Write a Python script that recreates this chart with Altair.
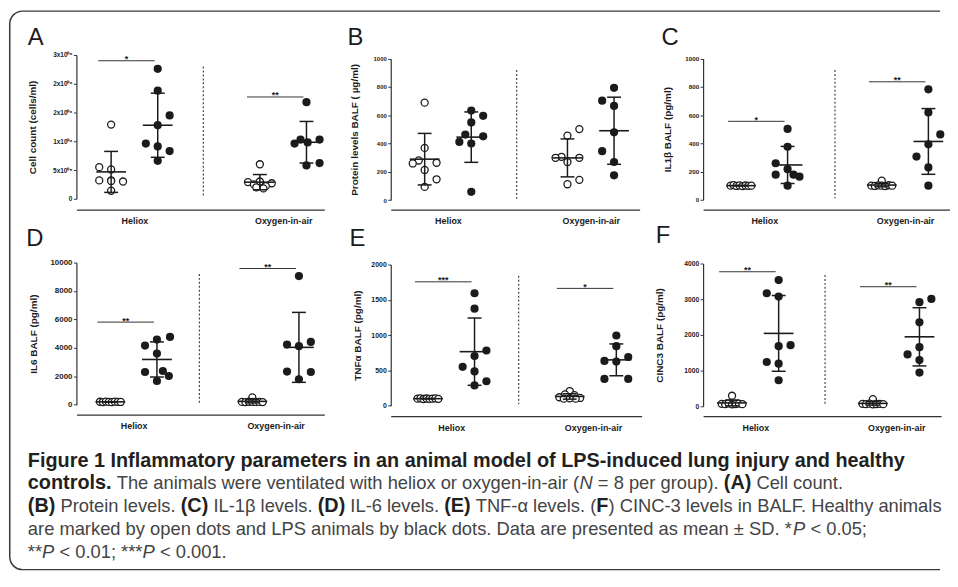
import json
import altair as alt
import pandas as pd

FONT = "Liberation Sans"
INK = "#1b1b1b"
AXIS_INK = "#333333"

# ---------------- data ----------------
categories = ["Heliox", "Oxygen-in-air"]
conditions = ["Healthy", "LPS"]
letters = ["A", "B", "C", "D", "E", "F"]
y_titles = [
    "Cell count (cells/ml)",
    "Protein levels BALF ( \u00b5g/ml)",
    "IL1\u03b2 BALF (pg/ml)",
    "IL6 BALF (pg/ml)",
    "TNF\u03b1 BALF (pg/ml)",
    "CINC3 BALF (pg/ml)",
]
y_max = [2500000, 1000, 1000, 10000, 2000, 4000]
y_step = [500000, 200, 200, 2000, 500, 1000]
a_tick_labels = ["0", "5x10\u2070\u2075", "1x10\u2070\u2076", "2x10\u2070\u2076", "2x10\u2070\u2076", "3x10\u2070\u2076"]

# Panel A - cell count (cells/ml)
A_heliox_healthy = [1290000, 550000, 510000, 320000, 320000, 300000, 140000, 310000]
A_heliox_lps = [2260000, 1880000, 1450000, 1280000, 960000, 910000, 830000, 660000]
A_oxygen_healthy = [600000, 300000, 290000, 270000, 250000, 220000, 200000, 180000]
A_oxygen_lps = [1680000, 1030000, 1030000, 980000, 960000, 620000, 580000]
# Panel B - protein (ug/ml)
B_heliox_healthy = [689, 369, 280, 259, 264, 213, 147, 93]
B_heliox_lps = [633, 596, 549, 463, 451, 411, 400, 58]
B_oxygen_healthy = [502, 456, 306, 299, 299, 269, 143, 112]
B_oxygen_lps = [794, 703, 666, 479, 346, 269, 175]
# Panel C - IL1b (pg/ml)
C_heliox_healthy = [100, 104, 98, 102, 97, 101, 99, 100]
C_heliox_lps = [502, 376, 259, 217, 178, 178, 164, 100]
C_oxygen_healthy = [135, 100, 98, 102, 100, 97, 103, 100]
C_oxygen_lps = [783, 619, 463, 393, 306, 229, 100]
# Panel D - IL6 (pg/ml)
D_heliox_healthy = [210, 190, 220, 200, 180, 215, 205, 195]
D_heliox_lps = [4770, 4580, 4160, 3600, 2300, 2370, 2020, 1670]
D_oxygen_healthy = [512, 200, 190, 210, 205, 195, 200, 185]
D_oxygen_lps = [9050, 4230, 4120, 4420, 2330, 2300, 1790]
# Panel E - TNFa (pg/ml)
E_heliox_healthy = [100, 105, 95, 102, 98, 100, 103, 97]
E_heliox_lps = [1593, 1375, 782, 704, 551, 486, 347, 287]
E_oxygen_healthy = [208, 160, 150, 120, 110, 100, 100, 105]
E_oxygen_lps = [995, 843, 690, 634, 625, 380, 380]
# Panel F - CINC3 (pg/ml)
F_heliox_healthy = [296, 70, 60, 80, 55, 65, 75, 60]
F_heliox_lps = [3537, 3167, 3074, 1713, 1685, 1241, 1194, 731]
F_oxygen_healthy = [200, 70, 60, 75, 55, 65, 70, 60]
F_oxygen_lps = [3009, 2917, 2352, 1657, 1454, 1296, 944]

# horizontal dot column of each animal within its group
A_heliox_healthy_slot = [0, -1, 0, -1, 0, 1, 0, 0]
A_heliox_lps_slot = [0, 0, 1, 0, -1, 0, 1, 0]
A_oxygen_healthy_slot = [0, 0, -1, 1, -0.5, 0.5, -0.3, 0.3]
A_oxygen_lps_slot = [0, -0.5, 1.1, 0.1, -1, 1.1, 0]
B_heliox_healthy_slot = [0, 0, -0.5, -1, 1, 0, 1, 0]
B_heliox_lps_slot = [0, 1, 0, -0.5, 1, -1, 0, 0]
B_oxygen_healthy_slot = [1, 0, -0.5, -1, 1, 0, 1, 0]
B_oxygen_lps_slot = [0, -1, 0, 0, -1, 0, 0]
C_heliox_healthy_slot = [-0.875, -0.625, -0.375, -0.125, 0.125, 0.375, 0.625, 0.875]
C_heliox_lps_slot = [0, 0, -1, 0, -1, 0.5, 1, 0]
C_oxygen_healthy_slot = [0, -0.875, -0.58, -0.29, 0, 0.29, 0.58, 0.875]
C_oxygen_lps_slot = [0, 0, 1, 0, -1, 0, 0]
D_heliox_healthy_slot = [-0.875, -0.625, -0.375, -0.125, 0.125, 0.375, 0.625, 0.875]
D_heliox_lps_slot = [1.1, 0, -1, 0, -1, 0.5, 1, 0]
D_oxygen_healthy_slot = [0, -0.875, -0.58, -0.29, 0, 0.29, 0.58, 0.875]
D_oxygen_lps_slot = [0, -1, 0, 1, -1, 1, 0]
E_heliox_healthy_slot = [-0.875, -0.625, -0.375, -0.125, 0.125, 0.375, 0.625, 0.875]
E_heliox_lps_slot = [0, 0, 1, 0, -1, 0, 1, 0]
E_oxygen_healthy_slot = [0, -0.4, 0.4, -0.875, 0.875, -0.5, 0.5, 0]
E_oxygen_lps_slot = [0, 0, 1, -1, 0, -1, 1]
F_heliox_healthy_slot = [0, -0.875, -0.58, -0.29, 0, 0.29, 0.58, 0.875]
F_heliox_lps_slot = [0, -1, 0, 1, 0, -1, 0, 0]
F_oxygen_healthy_slot = [0, -0.875, -0.58, -0.29, 0, 0.29, 0.58, 0.875]
F_oxygen_lps_slot = [1, 0, 0, 0, -1, 0, 0]

# significance bars
sig_heliox_y = [2400000, None, 556, 5810, 1755, 3770]
sig_heliox_stars = ["*", "", "*", "**", "***", "**"]
sig_oxygen_y = [1770000, None, 836, 9580, 1662, 3350]
sig_oxygen_stars = ["**", "", "**", "**", "*", "**"]

# caption text segments (b = bold, r = regular, i = italic)
cap_text = [
    "Figure 1 Inflammatory parameters in an animal model of LPS-induced lung injury and healthy",
    "controls.", " The animals were ventilated with heliox or oxygen-in-air (", "N", " = 8 per group). ",
    "(A)", " Cell count.",
    "(B)", " Protein levels. ", "(C)", " IL-1\u03b2 levels. ", "(D)", " IL-6 levels. ", "(E)",
    " TNF-\u03b1 levels. (", "F", ") CINC-3 levels in BALF. Healthy animals",
    "are marked by open dots and LPS animals by black dots. Data are presented as mean \u00b1 SD. *",
    "P", " < 0.05;",
    "**", "P", " < 0.01; ***", "P", " < 0.001.",
]
cap_line = [1, 2, 2, 2, 2, 2, 2, 3, 3, 3, 3, 3, 3, 3, 3, 3, 3, 4, 4, 4, 5, 5, 5, 5, 5]
cap_style = ["b", "b", "r", "i", "r", "b", "r", "b", "r", "b", "r", "b", "r", "b", "r", "b", "r",
             "r", "i", "r", "r", "i", "r", "i", "r"]

# ---------------- layout (pixels) ----------------
CAP_SIZE = {"b": 20, "r": 18.5, "i": 18.5}
CAP_LEFT = 28          # page x of caption lines
CAP_BASE = 468         # page y of first caption baseline
CAP_LEAD = 23
ORIGIN_X, CAPTION_TOP = 77, 470.6   # page position of the caption cell origin

_REG = {' ': 278, '(': 333, ')': 333, '*': 389, ',': 278, '-': 333, '.': 278, ';': 278, '<': 584,
        '=': 584, '\u00b1': 584, '\u03b2': 575, '\u03b1': 578,
        'A': 667, 'B': 667, 'C': 722, 'D': 722, 'E': 667, 'F': 611, 'H': 722, 'I': 278, 'L': 556,
        'N': 722, 'P': 667, 'S': 667, 'T': 611,
        'a': 556, 'b': 556, 'c': 500, 'd': 556, 'e': 556, 'f': 278, 'g': 556, 'h': 556, 'i': 222,
        'j': 222, 'k': 500, 'l': 222, 'm': 833, 'n': 556, 'o': 556, 'p': 556, 'r': 333, 's': 500,
        't': 278, 'u': 556, 'v': 500, 'w': 722, 'x': 500, 'y': 500}
_BOLD = {' ': 278, '(': 333, ')': 333, '.': 278, '-': 333,
         'A': 722, 'B': 722, 'C': 722, 'D': 722, 'E': 667, 'F': 611, 'I': 278, 'L': 611, 'P': 667,
         'S': 667, 'a': 556, 'b': 611, 'c': 556, 'd': 611, 'e': 556, 'f': 333, 'g': 611, 'h': 611,
         'i': 278, 'j': 278, 'k': 556, 'l': 278, 'm': 889, 'n': 611, 'o': 611, 'p': 611, 'r': 389,
         's': 556, 't': 333, 'u': 611, 'y': 556, 'v': 556}


def text_width(s, style):
    table = _BOLD if style == "b" else _REG
    return sum(table.get(ch, 556) for ch in s) * CAP_SIZE[style] / 1000.0


cap_x = []
_cursor = {}
for t, ln, st in zip(cap_text, cap_line, cap_style):
    start = _cursor.get(ln, CAP_LEFT)
    lead = len(t) - len(t.lstrip(" "))
    cap_x.append(start + text_width(" " * lead, st) - ORIGIN_X)
    _cursor[ln] = start + text_width(t, st)

LAYOUT = [
    dict(width=250, height=146, yrange=[145, 0], center=58.5, unit=75.0, sep=128, xoffset=10,
         lx=-49, ly=-10, ytitle_x=-44, label_size=6.5),
    dict(width=251, height=146, yrange=[146.3, 3.7], center=57.7, unit=72.0, sep=127, xoffset=10,
         lx=-43.5, ly=-10, ytitle_x=-36.5, label_size=6),
    dict(width=249, height=146, yrange=[146, 3.7], center=61.7, unit=71.0, sep=133, xoffset=10,
         lx=-42, ly=-10, ytitle_x=-35.5, label_size=6.3),
    dict(width=250, height=145, yrange=[143.4, 0], center=57.7, unit=71.6, sep=124, xoffset=8.4,
         lx=-50.5, ly=-16.3, ytitle_x=-43.5, label_size=8),
    dict(width=253, height=145, yrange=[144.4, 2], center=61.0, unit=71.5, sep=129, xoffset=10,
         lx=-41.5, ly=-16.3, ytitle_x=-34, label_size=7),
    dict(width=240, height=145, yrange=[145, 1], center=52.7, unit=71.0, sep=123, xoffset=10,
         lx=-47.8, ly=-19.3, ytitle_x=-44, label_size=6.75),
]
GAPS = [67, 53, 65, 62]   # horizontal gaps between panels (row 1: A-B, B-C; row 2: D-E, E-F)
ROW_GAP = 63.3
SIDE_PX = 23.5
SLOT_PX = 12.0

values = {}
slots = {}
g = globals()
for p in letters:
    values[p] = [[g[f"{p}_heliox_healthy"], g[f"{p}_heliox_lps"]],
                 [g[f"{p}_oxygen_healthy"], g[f"{p}_oxygen_lps"]]]
    slots[p] = [[g[f"{p}_heliox_healthy_slot"], g[f"{p}_heliox_lps_slot"]],
                [g[f"{p}_oxygen_healthy_slot"], g[f"{p}_oxygen_lps_slot"]]]


def make_panel(k):
    p = letters[k]
    L = LAYOUT[k]
    u = L["unit"]
    rows = []
    for gi, cat in enumerate(categories):
        for si, cond in enumerate(conditions):
            gpos = gi * 2 + (-1 if si == 0 else 1) * SIDE_PX / u
            for v, s in zip(values[p][gi][si], slots[p][gi][si]):
                rows.append(dict(category=cat, condition=cond, value=v, gpos=gpos,
                                 pos=gpos + s * SLOT_PX / u))
    df = pd.DataFrame(rows)

    xs = alt.Scale(domain=[-L["center"] / u, (L["width"] - L["center"]) / u], nice=False, zero=False)
    ys = alt.Scale(domain=[0, y_max[k]], range=L["yrange"], nice=False, zero=False)
    xa = alt.Axis(values=[0, 2], labelExpr=f"datum.value < 1 ? '{categories[0]}' : '{categories[1]}'",
                  ticks=False, grid=False, domainColor=AXIS_INK, domainWidth=1.3,
                  labelFont=FONT, labelFontSize=9, labelFontWeight="bold", labelColor=INK,
                  labelPadding=7, offset=L["xoffset"], title=None, labelFlush=False, labelOverlap=False)
    tick_vals = [y_step[k] * i for i in range(int(round(y_max[k] / y_step[k])) + 1)]
    axis_kw = dict(values=tick_vals, tickSize=3, tickWidth=1, tickColor=AXIS_INK,
                   domainColor=AXIS_INK, domainWidth=1.2, labelFont=FONT,
                   labelFontSize=L["label_size"], labelFontWeight="bold", labelColor=INK,
                   labelPadding=1.5, grid=False, labelOverlap=False,
                   title=y_titles[k], titleFont=FONT, titleFontSize=10, titleFontWeight="bold",
                   titleColor=INK, titleX=L["ytitle_x"], titleY=(L["yrange"][0] + L["yrange"][1]) / 2,
                   titleAngle=270, titleAlign="center", titleBaseline="middle")
    if k == 0:
        axis_kw["labelExpr"] = f"{json.dumps(a_tick_labels, ensure_ascii=False)}[round(datum.value / {y_step[0]})]"
    else:
        axis_kw["format"] = "d"
    ya = alt.Axis(**axis_kw)

    def X(f):
        return alt.X(f, type="quantitative", scale=xs, axis=xa)

    def Y(f):
        return alt.Y(f, type="quantitative", scale=ys, axis=ya)

    sep_df = pd.DataFrame({"x": [(L["sep"] - L["center"]) / u],
                           "y1": [0.92 * y_max[k]], "y2": [0.01 * y_max[k]]})
    sep = alt.Chart(sep_df).mark_rule(strokeDash=[2, 2], color="#444444", strokeWidth=1.2).encode(
        x=X("x"), y=Y("y1"), y2="y2:Q")

    base = alt.Chart(df)
    open_pts = base.transform_filter(f"datum.condition == '{conditions[0]}'").mark_point(
        shape="circle", filled=True, fill="white", stroke=INK, strokeWidth=1.3, size=50, opacity=1
    ).encode(x=X("pos"), y=Y("value"))
    filled_pts = base.transform_filter(f"datum.condition == '{conditions[1]}'").mark_point(
        shape="circle", filled=True, color=INK, size=68, opacity=1
    ).encode(x=X("pos"), y=Y("value"))

    stats = base.transform_aggregate(m="mean(value)", s="stdev(value)", groupby=["gpos"]).transform_calculate(
        lo="datum.m - datum.s", hi="datum.m + datum.s",
        ml=f"datum.gpos - {15 / u}", mr=f"datum.gpos + {15 / u}",
        cl=f"datum.gpos - {7 / u}", cr=f"datum.gpos + {7 / u}")
    mean_rule = stats.mark_rule(color=INK, strokeWidth=1.6).encode(x=X("ml"), x2="mr:Q", y=Y("m"))
    sd_rule = stats.mark_rule(color=INK, strokeWidth=1.5).encode(x=X("gpos"), y=Y("lo"), y2="hi:Q")
    cap_lo = stats.mark_rule(color=INK, strokeWidth=1.5).encode(x=X("cl"), x2="cr:Q", y=Y("lo"))
    cap_hi = stats.mark_rule(color=INK, strokeWidth=1.5).encode(x=X("cl"), x2="cr:Q", y=Y("hi"))

    letter = alt.Chart(pd.DataFrame({"t": [p]})).mark_text(
        align="left", baseline="alphabetic", font=FONT, fontSize=24, color=INK
    ).encode(x=alt.value(L["lx"]), y=alt.value(L["ly"]), text="t:N")

    layers = [sep, open_pts, filled_pts, mean_rule, sd_rule, cap_lo, cap_hi, letter]

    srows = []
    for gi, (yy, st) in enumerate([(sig_heliox_y[k], sig_heliox_stars[k]), (sig_oxygen_y[k], sig_oxygen_stars[k])]):
        if yy is None:
            continue
        x1 = gi * 2 + (-SIDE_PX - 13) / u
        x2 = gi * 2 + (SIDE_PX - 3) / u
        srows.append(dict(x1=x1, x2=x2, xm=(x1 + x2) / 2, y=yy, stars=st))
    if srows:
        sdf = pd.DataFrame(srows)
        sig_rule = alt.Chart(sdf).mark_rule(color=AXIS_INK, strokeWidth=1).encode(x=X("x1"), x2="x2:Q", y=Y("y"))
        sig_text = alt.Chart(sdf).mark_text(baseline="alphabetic", dy=1.5, font=FONT, fontSize=9,
                                            fontWeight="bold", color=INK).encode(x=X("xm"), y=Y("y"), text="stars:N")
        layers += [sig_rule, sig_text]

    return alt.layer(*layers).properties(width=L["width"], height=L["height"])


def spacer(w, h):
    return alt.Chart(pd.DataFrame({"t": [""]})).mark_text().encode(
        x=alt.value(0), y=alt.value(0), text="t:N").properties(width=w, height=h)


panels = [make_panel(k) for k in range(6)]

# caption
cap_df = pd.DataFrame({"text": [t.strip(" ") for t in cap_text], "line": cap_line,
                       "style": cap_style, "x": cap_x})
cx = alt.X("x:Q", scale=alt.Scale(domain=[0, 1000], range=[0, 1000]), axis=None)
cy = alt.Y("line:Q", scale=alt.Scale(domain=[1, 5], range=[CAP_BASE - CAPTION_TOP, CAP_BASE - CAPTION_TOP + 4 * CAP_LEAD]),
           axis=None)
cap_layers = []
for st, weight, fstyle, color in [("b", "bold", "normal", "#231f20"), ("r", "normal", "normal", "#444444"),
                                  ("i", "normal", "italic", "#444444")]:
    cap_layers.append(alt.Chart(cap_df).transform_filter(f"datum.style == '{st}'").mark_text(
        align="left", baseline="alphabetic", font=FONT, fontSize=CAP_SIZE[st], fontWeight=weight,
        fontStyle=fstyle, color=color).encode(x=cx, y=cy, text="text:N"))

FL, FT, FR_, FB, RAD = 9.75, 8.75, 948, 572, 13
frame = alt.Chart(pd.DataFrame({"k": [0]})).mark_rect(
    fillOpacity=0, stroke="#3a3a3a", strokeWidth=1.5, cornerRadiusTopLeft=RAD, cornerRadiusBottomLeft=RAD,
    strokeDash=[FR_ - FL - RAD, FB - FT, 4000]
).encode(x=alt.value(FL - ORIGIN_X), x2=alt.value(FR_ - ORIGIN_X),
         y=alt.value(FT - CAPTION_TOP), y2=alt.value(FB - CAPTION_TOP))
caption = alt.layer(frame, *cap_layers).properties(width=250, height=90)

cells = [panels[0], spacer(GAPS[0], 146), panels[1], spacer(GAPS[1], 146), panels[2],
         panels[3], spacer(GAPS[2], 145), panels[4], spacer(GAPS[3], 145), panels[5],
         caption]
figure = alt.concat(*cells, columns=5, align="none", bounds="flush",
                    spacing={"row": ROW_GAP, "column": 0})

chart = figure.properties(
    padding={"left": 1, "top": 0, "right": 0, "bottom": 0}, background="white"
).configure_view(strokeWidth=0)

chart.save("out.html", embed_options={"renderer": "svg", "actions": False})
